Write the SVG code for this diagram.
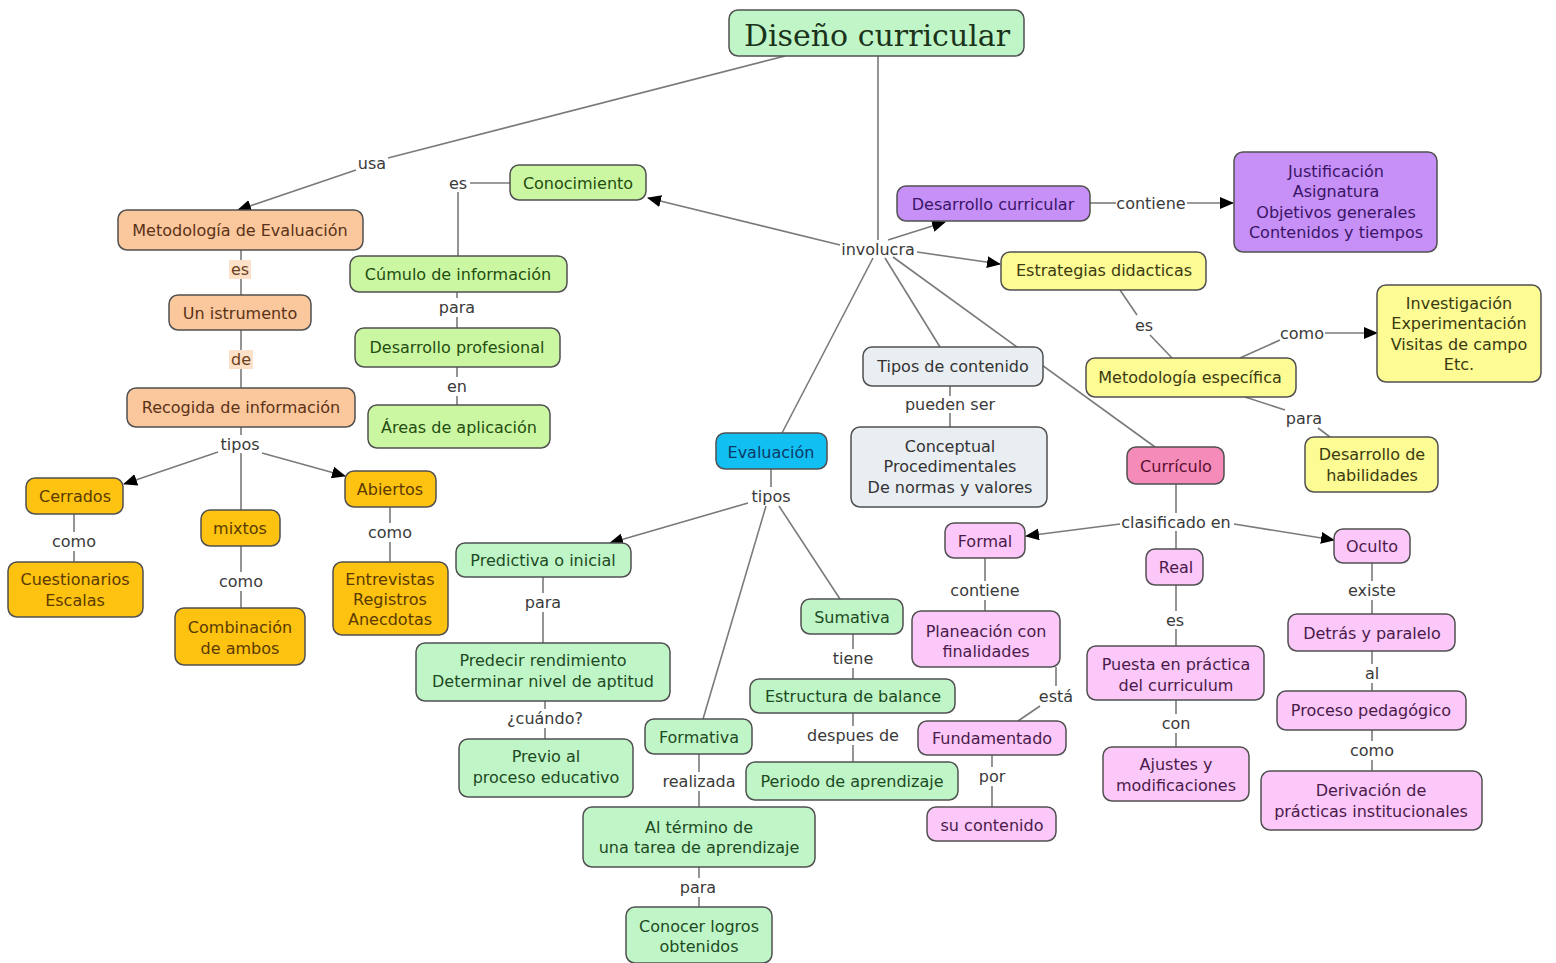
<svg xmlns="http://www.w3.org/2000/svg" width="1556" height="963" viewBox="0 0 1556 963">
<defs>
<marker id="arr" markerWidth="14" markerHeight="12" refX="13" refY="6" orient="auto" markerUnits="userSpaceOnUse">
<path d="M0,0 L14,6 L0,12 Z" fill="#000"/>
</marker>
<style>
.n rect{stroke:#505050;stroke-width:1.5}
.n text{font-family:"DejaVu Sans",Verdana,sans-serif;font-size:16px;text-anchor:middle;dominant-baseline:central}
.lbl{font-family:"DejaVu Sans",Verdana,sans-serif;font-size:16px;text-anchor:middle;dominant-baseline:central;fill:#3a3a3a}
.c path{fill:none;stroke:#7a7a7a;stroke-width:1.6}
.c path.a{marker-end:url(#arr)}
.peach rect{fill:#fbc79c}.peach text{fill:#5a3218}
.orng rect{fill:#fec210}.orng text{fill:#5a3a00}
.lgrn rect{fill:#ccf7a2}.lgrn text{fill:#234d10}
.mint rect{fill:#c0f5c8}.mint text{fill:#1d4a22}
.purp rect{fill:#c690f7}.purp text{fill:#3a1466}
.yell rect{fill:#fdfb94}.yell text{fill:#3a3a10}
.gray rect{fill:#e9eef2}.gray text{fill:#333}
.pink rect{fill:#f58bb9}.pink text{fill:#5a1030}
.lpnk rect{fill:#fbc8f9}.lpnk text{fill:#4a1a4a}
.cyan rect{fill:#12bff3}.cyan text{fill:#0b3a66}
</style>
</defs>
<rect width="1556" height="963" fill="#fff"/>

<g class="c" id="connectors">
<path d="M785,56 L388,158"/>
<path class="a" d="M356,170 L238,210"/>
<path d="M878,56 L878,240"/>
<path class="a" d="M840,245 L648,198"/>
<path class="a" d="M888,240 L945,222"/>
<path class="a" d="M917,252 L1000,264"/>
<path d="M885,258 L940,347"/>
<path d="M893,257 L1155,447"/>
<path d="M873,258 L782,433"/>
<path d="M1090,203 L1116,203"/>
<path class="a" d="M1187,203 L1233,203"/>
<path d="M1120,290 L1137,315"/>
<path d="M1150,335 L1172,358"/>
<path d="M1240,358 L1280,340"/>
<path class="a" d="M1325,333 L1377,333"/>
<path d="M1245,397 L1285,410"/>
<path d="M1318,428 L1330,437"/>
<path d="M950,386 L950,396"/>
<path d="M950,413 L950,427"/>
<path d="M1176,484 L1176,513"/>
<path class="a" d="M1120,524 L1026,536"/>
<path class="a" d="M1234,524 L1334,540"/>
<path d="M1176,531 L1176,549"/>
<path d="M985,558 L985,581"/>
<path d="M985,600 L985,611"/>
<path d="M1056,667 L1056,686"/>
<path d="M1040,706 L1018,721"/>
<path d="M992,755 L992,767"/>
<path d="M992,786 L992,807"/>
<path d="M1176,585 L1176,611"/>
<path d="M1176,629 L1176,646"/>
<path d="M1176,700 L1176,714"/>
<path d="M1176,733 L1176,747"/>
<path d="M1372,563 L1372,581"/>
<path d="M1372,600 L1372,614"/>
<path d="M1372,651 L1372,664"/>
<path d="M1372,683 L1372,691"/>
<path d="M1372,730 L1372,741"/>
<path d="M1372,760 L1372,771"/>
<path d="M241,250 L241,260"/>
<path d="M241,279 L241,295"/>
<path d="M241,330 L241,350"/>
<path d="M241,369 L241,388"/>
<path d="M241,427 L241,435"/>
<path class="a" d="M218,452 L124,484"/>
<path class="a" d="M262,453 L345,476"/>
<path d="M241,453 L241,510"/>
<path d="M74,514 L74,532"/>
<path d="M74,551 L74,562"/>
<path d="M241,546 L241,572"/>
<path d="M241,591 L241,608"/>
<path d="M390,507 L390,523"/>
<path d="M390,542 L390,562"/>
<path d="M510,183 L470,183"/>
<path d="M458,192 L458,256"/>
<path d="M457,292 L457,298"/>
<path d="M457,317 L457,328"/>
<path d="M457,367 L457,377"/>
<path d="M457,396 L457,405"/>
<path d="M771,469 L771,487"/>
<path class="a" d="M748,503 L610,543"/>
<path d="M766,506 L703,719"/>
<path d="M779,506 L840,599"/>
<path d="M543,577 L543,593"/>
<path d="M543,612 L543,643"/>
<path d="M545,701 L545,709"/>
<path d="M545,728 L545,739"/>
<path d="M853,634 L853,649"/>
<path d="M853,668 L853,679"/>
<path d="M853,713 L853,726"/>
<path d="M853,745 L853,762"/>
<path d="M699,754 L699,772"/>
<path d="M699,791 L699,807"/>
<path d="M699,867 L699,878"/>
<path d="M699,897 L699,907"/>
</g>

<g id="labels">
<text class="lbl" x="372" y="163">usa</text>
<text class="lbl" x="878" y="249">involucra</text>
<text class="lbl" x="1151" y="203">contiene</text>
<text class="lbl" x="1144" y="325">es</text>
<text class="lbl" x="1302" y="333">como</text>
<text class="lbl" x="1304" y="418">para</text>
<text class="lbl" x="950" y="404">pueden ser</text>
<text class="lbl" x="1176" y="522">clasificado en</text>
<text class="lbl" x="985" y="590">contiene</text>
<text class="lbl" x="1056" y="696">está</text>
<text class="lbl" x="992" y="776">por</text>
<text class="lbl" x="1175" y="620">es</text>
<text class="lbl" x="1176" y="723">con</text>
<text class="lbl" x="1372" y="590">existe</text>
<text class="lbl" x="1372" y="673">al</text>
<text class="lbl" x="1372" y="750">como</text>
<rect x="229" y="260" width="22" height="19" fill="#fde0c8"/>
<text class="lbl" x="240" y="269" fill="#6b4020" style="fill:#6b4020">es</text>
<rect x="229" y="350" width="24" height="19" fill="#fde0c8"/>
<text class="lbl" x="241" y="359" style="fill:#6b4020">de</text>
<text class="lbl" x="240" y="444">tipos</text>
<text class="lbl" x="74" y="541">como</text>
<text class="lbl" x="241" y="581">como</text>
<text class="lbl" x="390" y="532">como</text>
<text class="lbl" x="458" y="183">es</text>
<text class="lbl" x="457" y="307">para</text>
<text class="lbl" x="457" y="386">en</text>
<text class="lbl" x="771" y="496">tipos</text>
<text class="lbl" x="543" y="602">para</text>
<text class="lbl" x="545" y="718">¿cuándo?</text>
<text class="lbl" x="853" y="658">tiene</text>
<text class="lbl" x="853" y="735">despues de</text>
<text class="lbl" x="699" y="781">realizada</text>
<text class="lbl" x="698" y="887">para</text>
</g>

<g id="n-diseno" class="n mint"><rect x="729" y="10" width="295" height="46" rx="9"/><text x="877" y="35" style="font-family:'DejaVu Serif',Georgia,serif;font-size:30px;fill:#1a331a">Diseño curricular</text></g>

<g id="n-meteval" class="n peach"><rect x="118" y="210" width="245" height="40" rx="9"/><text x="240" y="230">Metodología de Evaluación</text></g>
<g id="n-instrumento" class="n peach"><rect x="169" y="295" width="142" height="35" rx="9"/><text x="240" y="313">Un istrumento</text></g>
<g id="n-recogida" class="n peach"><rect x="127" y="388" width="228" height="39" rx="9"/><text x="241" y="407">Recogida de información</text></g>

<g id="n-cerrados" class="n orng"><rect x="26" y="478" width="97" height="36" rx="9"/><text x="75" y="496">Cerrados</text></g>
<g id="n-mixtos" class="n orng"><rect x="201" y="510" width="79" height="36" rx="9"/><text x="240" y="528">mixtos</text></g>
<g id="n-abiertos" class="n orng"><rect x="345" y="471" width="91" height="36" rx="9"/><text x="390" y="489">Abiertos</text></g>
<g id="n-cuestionarios" class="n orng"><rect x="8" y="562" width="135" height="55" rx="9"/><text x="75" y="579">Cuestionarios</text><text x="75" y="600">Escalas</text></g>
<g id="n-combinacion" class="n orng"><rect x="175" y="608" width="130" height="57" rx="9"/><text x="240" y="627">Combinación</text><text x="240" y="648">de ambos</text></g>
<g id="n-entrevistas" class="n orng"><rect x="333" y="562" width="115" height="73" rx="9"/><text x="390" y="579">Entrevistas</text><text x="390" y="599">Registros</text><text x="390" y="619">Anecdotas</text></g>

<g id="n-conocimiento" class="n lgrn"><rect x="510" y="165" width="136" height="35" rx="9"/><text x="578" y="183">Conocimiento</text></g>
<g id="n-cumulo" class="n lgrn"><rect x="350" y="256" width="217" height="36" rx="9"/><text x="458" y="274">Cúmulo de información</text></g>
<g id="n-desprof" class="n lgrn"><rect x="355" y="328" width="205" height="39" rx="9"/><text x="457" y="347">Desarrollo profesional</text></g>
<g id="n-areas" class="n lgrn"><rect x="368" y="405" width="182" height="43" rx="9"/><text x="459" y="427">Áreas de aplicación</text></g>

<g id="n-descurr" class="n purp"><rect x="897" y="186" width="193" height="35" rx="9"/><text x="993" y="204">Desarrollo curricular</text></g>
<g id="n-justificacion" class="n purp"><rect x="1234" y="152" width="203" height="100" rx="9"/><text x="1336" y="171">Justificación</text><text x="1336" y="191">Asignatura</text><text x="1336" y="212">Objetivos generales</text><text x="1336" y="232">Contenidos y tiempos</text></g>

<g id="n-estrategias" class="n yell"><rect x="1001" y="252" width="205" height="38" rx="9"/><text x="1104" y="270">Estrategias didacticas</text></g>
<g id="n-metesp" class="n yell"><rect x="1086" y="358" width="210" height="39" rx="9"/><text x="1190" y="377">Metodología específica</text></g>
<g id="n-investigacion" class="n yell"><rect x="1377" y="285" width="164" height="97" rx="9"/><text x="1459" y="303">Investigación</text><text x="1459" y="323">Experimentación</text><text x="1459" y="344">Visitas de campo</text><text x="1459" y="364">Etc.</text></g>
<g id="n-habilidades" class="n yell"><rect x="1305" y="437" width="133" height="55" rx="9"/><text x="1372" y="454">Desarrollo de</text><text x="1372" y="475">habilidades</text></g>

<g id="n-tipos" class="n gray"><rect x="863" y="347" width="180" height="39" rx="9"/><text x="953" y="366">Tipos de contenido</text></g>
<g id="n-conceptual" class="n gray"><rect x="851" y="427" width="196" height="80" rx="9"/><text x="950" y="446">Conceptual</text><text x="950" y="466">Procedimentales</text><text x="950" y="487">De normas y valores</text></g>

<g id="n-curriculo" class="n pink"><rect x="1127" y="447" width="97" height="37" rx="9"/><text x="1176" y="466">Currículo</text></g>
<g id="n-formal" class="n lpnk"><rect x="945" y="523" width="80" height="35" rx="9"/><text x="985" y="541">Formal</text></g>
<g id="n-real" class="n lpnk"><rect x="1146" y="549" width="57" height="36" rx="9"/><text x="1176" y="567">Real</text></g>
<g id="n-oculto" class="n lpnk"><rect x="1334" y="529" width="76" height="34" rx="9"/><text x="1372" y="546">Oculto</text></g>
<g id="n-planeacion" class="n lpnk"><rect x="912" y="611" width="148" height="56" rx="9"/><text x="986" y="631">Planeación con</text><text x="986" y="651">finalidades</text></g>
<g id="n-fundamentado" class="n lpnk"><rect x="918" y="721" width="148" height="34" rx="9"/><text x="992" y="738">Fundamentado</text></g>
<g id="n-sucontenido" class="n lpnk"><rect x="927" y="807" width="129" height="34" rx="9"/><text x="992" y="825">su contenido</text></g>
<g id="n-puesta" class="n lpnk"><rect x="1087" y="646" width="177" height="54" rx="9"/><text x="1176" y="664">Puesta en práctica</text><text x="1176" y="685">del curriculum</text></g>
<g id="n-ajustes" class="n lpnk"><rect x="1103" y="747" width="146" height="54" rx="9"/><text x="1176" y="764">Ajustes y</text><text x="1176" y="785">modificaciones</text></g>
<g id="n-detras" class="n lpnk"><rect x="1288" y="614" width="167" height="37" rx="9"/><text x="1372" y="633">Detrás y paralelo</text></g>
<g id="n-proceso" class="n lpnk"><rect x="1277" y="691" width="189" height="39" rx="9"/><text x="1371" y="710">Proceso pedagógico</text></g>
<g id="n-derivacion" class="n lpnk"><rect x="1261" y="771" width="221" height="59" rx="9"/><text x="1371" y="790">Derivación de</text><text x="1371" y="811">prácticas institucionales</text></g>

<g id="n-evaluacion" class="n cyan"><rect x="716" y="433" width="111" height="36" rx="9"/><text x="771" y="452">Evaluación</text></g>
<g id="n-predictiva" class="n mint"><rect x="456" y="543" width="175" height="34" rx="9"/><text x="543" y="560">Predictiva o inicial</text></g>
<g id="n-predecir" class="n mint"><rect x="416" y="643" width="254" height="58" rx="9"/><text x="543" y="660">Predecir rendimiento</text><text x="543" y="681">Determinar nivel de aptitud</text></g>
<g id="n-previo" class="n mint"><rect x="459" y="739" width="174" height="58" rx="9"/><text x="546" y="756">Previo al</text><text x="546" y="777">proceso educativo</text></g>
<g id="n-formativa" class="n mint"><rect x="645" y="719" width="107" height="35" rx="9"/><text x="699" y="737">Formativa</text></g>
<g id="n-termino" class="n mint"><rect x="583" y="807" width="232" height="60" rx="9"/><text x="699" y="827">Al término de</text><text x="699" y="847">una tarea de aprendizaje</text></g>
<g id="n-conocer" class="n mint"><rect x="626" y="907" width="146" height="56" rx="9"/><text x="699" y="926">Conocer logros</text><text x="699" y="946">obtenidos</text></g>
<g id="n-sumativa" class="n mint"><rect x="801" y="599" width="102" height="35" rx="9"/><text x="852" y="617">Sumativa</text></g>
<g id="n-estructura" class="n mint"><rect x="750" y="679" width="205" height="34" rx="9"/><text x="853" y="696">Estructura de balance</text></g>
<g id="n-periodo" class="n mint"><rect x="746" y="762" width="212" height="38" rx="9"/><text x="852" y="781">Periodo de aprendizaje</text></g>
</svg>
